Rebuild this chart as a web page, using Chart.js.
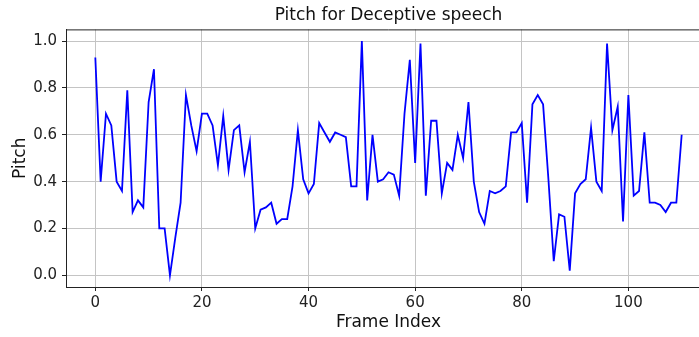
<!DOCTYPE html>
<html>
<head>
<meta charset="utf-8">
<script src="https://cdn.jsdelivr.net/npm/chart.js@4.4.1/dist/chart.umd.min.js"></script>
<style>
    html, body { margin: 0; padding: 0; overflow: hidden; background: #fff; }
    /* wider than the window so the x axis runs off the right edge like the reference */
    #chart-container { width: 778px; height: 337px; }
</style>
</head>
<body>
<div id="chart-container"><canvas id="pitch-chart"></canvas></div>
<script>
const pitch = [
    0.93, 0.40, 0.69, 0.64, 0.40, 0.36, 0.79, 0.27, 0.32, 0.29,
    0.74, 0.88, 0.20, 0.20, 0.00, 0.16, 0.31, 0.77, 0.64, 0.53,
    0.69, 0.69, 0.64, 0.47, 0.68, 0.45, 0.62, 0.64, 0.44, 0.57,
    0.20, 0.28, 0.29, 0.31, 0.22, 0.24, 0.24, 0.38, 0.62, 0.41,
    0.35, 0.39, 0.65, 0.61, 0.57, 0.61, 0.60, 0.59, 0.38, 0.38,
    1.00, 0.32, 0.60, 0.40, 0.41, 0.44, 0.43, 0.34, 0.69, 0.92,
    0.48, 0.99, 0.34, 0.66, 0.66, 0.35, 0.48, 0.45, 0.60, 0.50,
    0.74, 0.40, 0.27, 0.22, 0.36, 0.35, 0.36, 0.38, 0.61, 0.61,
    0.65, 0.31, 0.73, 0.77, 0.73, 0.41, 0.06, 0.26, 0.25, 0.02,
    0.35, 0.39, 0.41, 0.63, 0.40, 0.36, 0.99, 0.62, 0.72, 0.23,
    0.77, 0.34, 0.36, 0.61, 0.31, 0.31, 0.30, 0.27, 0.31, 0.31,
    0.60
];
const frameIndex = pitch.map((v, i) => i);
const xTicks = [0, 20, 40, 60, 80, 100];
const yTicks = [0.0, 0.2, 0.4, 0.6, 0.8, 1.0];

const FONT = 'DejaVu Sans';

// matplotlib draws a box round the axes, chart.js only gives left/bottom
const frameBox = {
    id: 'frameBox',
    afterDraw(chart) {
        const { ctx, chartArea } = chart;
        ctx.save();
        ctx.strokeStyle = '#222';
        ctx.lineWidth = 1;
        ctx.beginPath();
        ctx.moveTo(chartArea.left, chartArea.top + 0.5);
        ctx.lineTo(chartArea.right, chartArea.top + 0.5);
        ctx.moveTo(chartArea.right, chartArea.top);
        ctx.lineTo(chartArea.right, chartArea.bottom);
        ctx.stroke();
        ctx.restore();
    }
};

const ctx = document.getElementById('pitch-chart').getContext('2d');
new Chart(ctx, {
    type: 'line',
    data: {
        datasets: [{
            data: frameIndex.map((x, i) => ({ x: x, y: pitch[i] })),
            borderColor: '#0000ff',
            borderWidth: 1.8,
            pointRadius: 0,
            tension: 0,
            fill: false
        }]
    },
    options: {
        responsive: true,
        maintainAspectRatio: false,
        animation: false,
        layout: { padding: { left: 0, right: 67, top: 0, bottom: 0 } },
        plugins: {
            legend: { display: false },
            tooltip: { enabled: false },
            title: {
                display: true,
                fullSize: false, // centre over the plot area, not the canvas
                text: 'Pitch for Deceptive speech',
                color: '#111',
                font: { family: FONT, size: 17, weight: 'normal', lineHeight: 1.2 },
                padding: { top: 5, bottom: 4 }
            }
        },
        scales: {
            x: {
                type: 'linear',
                min: -5.5,
                max: 115.5,
                afterBuildTicks: scale => { scale.ticks = xTicks.map(v => ({ value: v })); },
                afterFit: scale => { scale.height = 50; },
                ticks: {
                    color: '#222',
                    font: { family: FONT, size: 15 },
                    padding: 3,
                    maxRotation: 0,
                    callback: v => String(v)
                },
                grid: { color: '#c4c4c4', lineWidth: 1, tickColor: '#222', tickLength: 4 },
                border: { color: '#222', width: 1 },
                title: {
                    display: true,
                    text: 'Frame Index',
                    color: '#111',
                    font: { family: FONT, size: 17, lineHeight: 1.2 },
                    padding: { top: 0, bottom: 4 }
                }
            },
            y: {
                min: -0.05,
                max: 1.05,
                afterBuildTicks: scale => { scale.ticks = yTicks.map(v => ({ value: v })); },
                afterFit: scale => { scale.width = 66; },
                ticks: {
                    color: '#222',
                    font: { family: FONT, size: 15 },
                    padding: 5,
                    callback: v => Number(v).toFixed(1)
                },
                grid: { color: '#c4c4c4', lineWidth: 1, tickColor: '#222', tickLength: 4 },
                border: { color: '#222', width: 1 },
                title: {
                    display: true,
                    text: 'Pitch',
                    color: '#111',
                    font: { family: FONT, size: 17, lineHeight: 1.2 },
                    padding: { top: 10, bottom: 0 }
                }
            }
        }
    },
    plugins: [frameBox]
});
</script>
</body>
</html>
